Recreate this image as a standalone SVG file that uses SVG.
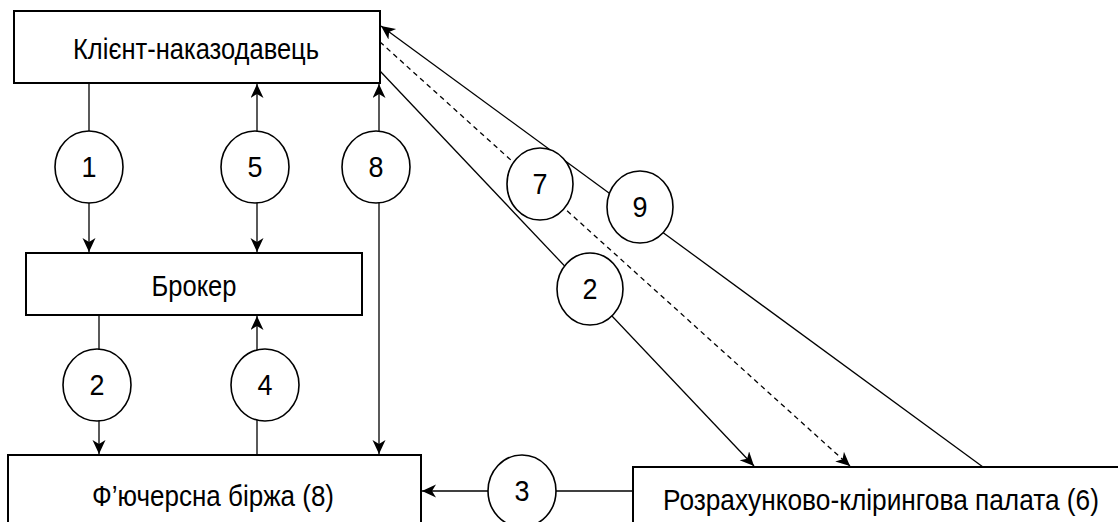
<svg xmlns="http://www.w3.org/2000/svg" width="1118" height="522" viewBox="0 0 1118 522">
<style>
.box{fill:#fff;stroke:#000;stroke-width:2}
.circ{fill:#fff;stroke:#000;stroke-width:1.6}
.ln{fill:none;stroke:#000;stroke-width:1.3}
.dash{stroke-dasharray:5,4}
.lbl{font-family:"Liberation Sans",Arial,sans-serif;font-size:30px;fill:#000;text-anchor:middle}
.num{font-family:"Liberation Sans",Arial,sans-serif;font-size:30px;fill:#000;text-anchor:middle}
</style>
<defs>
<marker id="arr" markerUnits="userSpaceOnUse" markerWidth="15" markerHeight="14" refX="14" refY="6.5" orient="auto-start-reverse">
<path d="M0,0 L14,6.5 L0,13 L4,6.5 Z" fill="#000"/>
</marker>
</defs>
<g id="connectors">
<line class="ln" x1="89" y1="83" x2="89" y2="252" marker-end="url(#arr)"/>
<line class="ln" x1="257" y1="84" x2="257" y2="252" marker-start="url(#arr)" marker-end="url(#arr)"/>
<line class="ln" x1="379" y1="84" x2="379" y2="454" marker-start="url(#arr)" marker-end="url(#arr)"/>
<line class="ln" x1="99" y1="315" x2="99" y2="454" marker-end="url(#arr)"/>
<line class="ln" x1="257" y1="455" x2="257" y2="316" marker-end="url(#arr)"/>
<line class="ln" x1="633" y1="491" x2="422" y2="491" marker-end="url(#arr)"/>
<line class="ln" x1="380" y1="71" x2="754" y2="466" marker-end="url(#arr)"/>
<line class="ln dash" x1="380" y1="42" x2="850" y2="466" marker-end="url(#arr)"/>
<line class="ln" x1="983" y1="467" x2="381" y2="26" marker-end="url(#arr)"/>
</g>
<g id="n-client"><rect class="box" x="14" y="11" width="366" height="72"/><text class="lbl" transform="translate(196,59) scale(0.87,1)" x="0" y="0" textLength="282.8" lengthAdjust="spacingAndGlyphs">Клієнт-наказодавець</text></g>
<g id="n-broker"><rect class="box" x="26" y="253" width="336" height="62"/><text class="lbl" transform="translate(194,296) scale(0.87,1)" x="0" y="0" textLength="97.7" lengthAdjust="spacingAndGlyphs">Брокер</text></g>
<g id="n-exchange"><rect class="box" x="8" y="455" width="413" height="80"/><text class="lbl" transform="translate(213,506) scale(0.87,1)" x="0" y="0" textLength="278.2" lengthAdjust="spacingAndGlyphs">Ф’ючерсна біржа (8)</text></g>
<g id="n-clearing"><rect class="box" x="633" y="467" width="500" height="80"/><text class="lbl" transform="translate(881,510) scale(0.87,1)" x="0" y="0" textLength="501.1" lengthAdjust="spacingAndGlyphs">Розрахунково-клірингова палата (6)</text></g>
<g id="s1"><ellipse class="circ" cx="89" cy="167" rx="34" ry="36"/><text class="num" x="89" y="177" textLength="15" lengthAdjust="spacingAndGlyphs">1</text></g>
<g id="s5"><ellipse class="circ" cx="255" cy="167" rx="34" ry="36"/><text class="num" x="255" y="177" textLength="15" lengthAdjust="spacingAndGlyphs">5</text></g>
<g id="s8"><ellipse class="circ" cx="376" cy="167" rx="34" ry="36"/><text class="num" x="376" y="177" textLength="15" lengthAdjust="spacingAndGlyphs">8</text></g>
<g id="s2a"><ellipse class="circ" cx="97" cy="385" rx="34" ry="36"/><text class="num" x="97" y="395" textLength="15" lengthAdjust="spacingAndGlyphs">2</text></g>
<g id="s4"><ellipse class="circ" cx="265" cy="385" rx="34" ry="36"/><text class="num" x="265" y="395" textLength="15" lengthAdjust="spacingAndGlyphs">4</text></g>
<g id="s7"><ellipse class="circ" cx="540" cy="184" rx="33" ry="36"/><text class="num" x="540" y="194" textLength="15" lengthAdjust="spacingAndGlyphs">7</text></g>
<g id="s9"><ellipse class="circ" cx="640" cy="207" rx="33" ry="36"/><text class="num" x="640" y="217" textLength="15" lengthAdjust="spacingAndGlyphs">9</text></g>
<g id="s2b"><ellipse class="circ" cx="590" cy="289" rx="33" ry="36"/><text class="num" x="590" y="299" textLength="15" lengthAdjust="spacingAndGlyphs">2</text></g>
<g id="s3"><ellipse class="circ" cx="522" cy="491" rx="34" ry="36"/><text class="num" x="522" y="501" textLength="15" lengthAdjust="spacingAndGlyphs">3</text></g>
</svg>
